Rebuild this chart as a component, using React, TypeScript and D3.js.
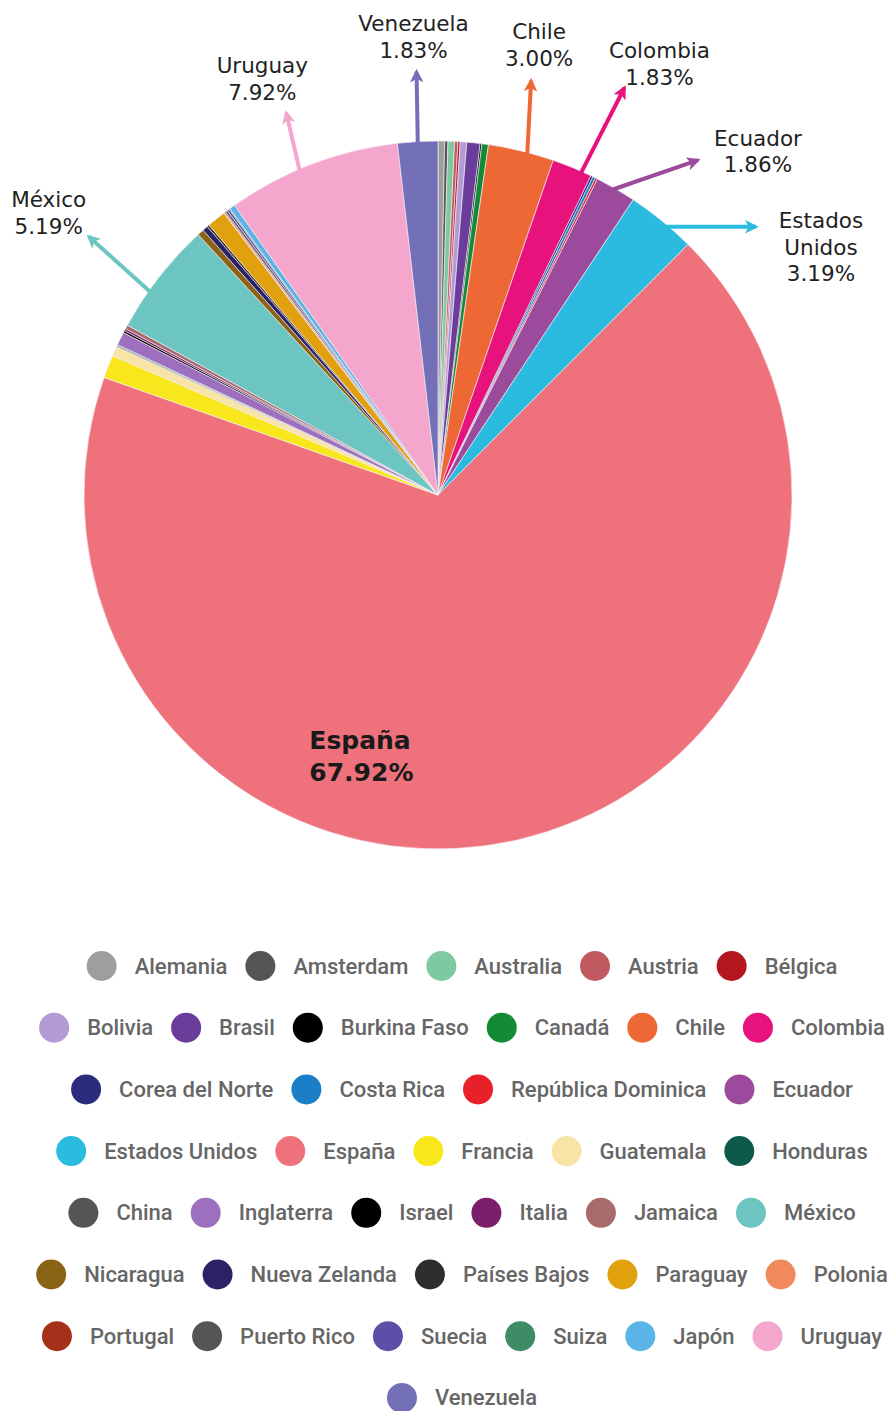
import React, { useMemo } from 'react';
import * as d3 from 'd3';

// Países, en el orden del gráfico (y de la leyenda)
const countries = [
  'Alemania', 'Amsterdam', 'Australia', 'Austria', 'Bélgica',
  'Bolivia', 'Brasil', 'Burkina Faso', 'Canadá', 'Chile', 'Colombia',
  'Corea del Norte', 'Costa Rica', 'República Dominica', 'Ecuador',
  'Estados Unidos', 'España', 'Francia', 'Guatemala', 'Honduras',
  'China', 'Inglaterra', 'Israel', 'Italia', 'Jamaica', 'México',
  'Nicaragua', 'Nueva Zelanda', 'Países Bajos', 'Paraguay', 'Polonia',
  'Portugal', 'Puerto Rico', 'Suecia', 'Suiza', 'Japón', 'Uruguay',
  'Venezuela'
];

// porcentajes (los pequeños estimados a ojo)
const shares = [
  0.3, 0.15, 0.3, 0.15, 0.1,
  0.3, 0.6, 0.08, 0.3, 3.0, 1.83,
  0.1, 0.13, 0.1, 1.86,
  3.19, 67.92, 1.05, 0.45, 0.05,
  0.05, 0.6, 0.1, 0.1, 0.18, 5.19,
  0.3, 0.25, 0.1, 0.85, 0.05,
  0.05, 0.1, 0.1, 0.05, 0.25, 7.92,
  1.83
];

const colors = [
  '#9e9e9e', '#555555', '#7fc9a1', '#c05a60', '#b3161d',
  '#b39bd6', '#6a3d9a', '#000000', '#138a36', '#ee6836', '#e8127c',
  '#2c2c7e', '#1a7fc6', '#e8202a', '#9c4a9c',
  '#2abbde', '#ef717b', '#f8e71c', '#f8e4a6', '#0d5a4a',
  '#555555', '#9d6fbf', '#000000', '#7b1f6b', '#a86a6a', '#6cc5c1',
  '#8a6414', '#2a2265', '#2e2e2e', '#e1a10f', '#f08a5d',
  '#a4311a', '#555555', '#5f4ea8', '#3d8c66', '#5ab4e6', '#f4a6cc',
  '#7470b8'
];

// etiquetas con flecha
const callouts = ['Venezuela', 'Chile', 'Colombia', 'Ecuador', 'Estados Unidos', 'México', 'Uruguay'];
const calloutLines = [
  ['Venezuela', '1.83%'],
  ['Chile', '3.00%'],
  ['Colombia', '1.83%'],
  ['Ecuador', '1.86%'],
  ['Estados', 'Unidos', '3.19%'],
  ['México', '5.19%'],
  ['Uruguay', '7.92%']
];

const W = 887;
const H = 1411;
const cx = 438;
const cy = 495;
const R = 354;

// at: posición en la porción (0..1), dir: grados (0 = arriba), len: largo, tx/ty: texto respecto a la punta
const calloutLayout: Record<string, { at: number; dir: number; len: number; tx: number; ty: number }> = {
  'Venezuela': { at: 0.5, dir: -1, len: 72, tx: -3, ty: -48 },
  'Chile': { at: 0.6, dir: 3, len: 74, tx: 8, ty: -49 },
  'Colombia': { at: 0.75, dir: 27, len: 96, tx: 35, ty: -37 },
  'Ecuador': { at: 0.45, dir: 71, len: 90, tx: 60, ty: -22 },
  'Estados Unidos': { at: 0.6, dir: 90, len: 90, tx: 65, ty: -6 },
  'México': { at: 0.35, dir: -48, len: 83, tx: -40, ty: -37 },
  'Uruguay': { at: 0.42, dir: -13, len: 60, tx: -24, ty: -47 }
};

const legendFont = '500 22px Roboto';
const legendTop = 966;
const legendRowGap = 61.7;
const legendCenter = 462;
const legendMaxWidth = 866;
const dotR = 15;
const gap = 18;

function measure(text: string): number {
  const c = document.createElement('canvas').getContext('2d');
  if (!c) return text.length * 10;
  c.font = legendFont;
  return c.measureText(text).width;
}

export default function App() {
  const data = countries.map((name, i) => ({ name, value: shares[i], color: colors[i] }));

  const pie = d3.pie<typeof data[0]>().sort(null).value(d => d.value).startAngle(0).endAngle(2 * Math.PI);
  const arcs = pie(data);
  const arc = d3.arc<d3.PieArcDatum<typeof data[0]>>().innerRadius(0).outerRadius(R);

  const legendRows = useMemo(() => {
    const rows: { name: string; color: string; w: number }[][] = [];
    let cur: { name: string; color: string; w: number }[] = [];
    let width = 0;
    data.forEach(d => {
      const w = measure(d.name);
      const itemW = dotR * 2 + gap + w;
      const next = cur.length ? width + gap + itemW : itemW;
      if (cur.length && next > legendMaxWidth) {
        rows.push(cur);
        cur = [];
        width = itemW;
      } else {
        width = next;
      }
      cur.push({ name: d.name, color: d.color, w });
    });
    if (cur.length) rows.push(cur);
    return rows;
  }, []);

  const espana = arcs.find(a => a.data.name === 'España')!;

  return (
    <svg width={W} height={H} style={{ position: 'absolute', left: 0, top: 0, background: '#fff' }}>
      <defs>
        {callouts.map(name => {
          const d = data.find(x => x.name === name)!;
          return (
            <marker key={name} id={`arrow-${countries.indexOf(name)}`} viewBox="0 0 10 10" refX="8" refY="5"
              markerWidth="3.4" markerHeight="3.4" orient="auto" markerUnits="strokeWidth">
              <path d="M0,0 L10,5 L0,10 L2.5,5 Z" fill={d.color} />
            </marker>
          );
        })}
      </defs>
      <g transform={`translate(${cx},${cy})`}>
        {arcs.map(a => (
          <path key={a.data.name} d={arc(a) || ''} fill={a.data.color}
            stroke="#f4eef6" strokeWidth={0.8} strokeOpacity={0.8} />
        ))}
        {callouts.map((name, i) => {
          const a = arcs.find(x => x.data.name === name)!;
          const lay = calloutLayout[name];
          const ang = a.startAngle + lay.at * (a.endAngle - a.startAngle);
          const sx = (R - 2) * Math.sin(ang);
          const sy = -(R - 2) * Math.cos(ang);
          const rad = (lay.dir * Math.PI) / 180;
          const ex = sx + lay.len * Math.sin(rad);
          const ey = sy - lay.len * Math.cos(rad);
          const lines = calloutLines[i];
          return (
            <g key={name}>
              <line x1={sx} y1={sy} x2={ex} y2={ey} stroke={a.data.color} strokeWidth={4}
                markerEnd={`url(#arrow-${countries.indexOf(name)})`} />
              <text x={ex + lay.tx} y={ey + lay.ty} textAnchor="middle" fontFamily="'DejaVu Sans', sans-serif"
                fontSize={21.5} fill="#222">
                {lines.map((l, j) => (
                  <tspan key={j} x={ex + lay.tx} y={ey + lay.ty + j * 26.5} dominantBaseline="central">{l}</tspan>
                ))}
              </text>
            </g>
          );
        })}
        {(() => {
          const [x, y] = arc.centroid(espana);
          return (
            <text fontFamily="'DejaVu Sans', sans-serif" fontWeight="bold" fontSize={25} fill="#1a1a1a">
              <tspan x={x - 168} y={y + 73} dominantBaseline="central">España</tspan>
              <tspan x={x - 168} y={y + 105} dominantBaseline="central">{`${espana.data.value.toFixed(2)}%`}</tspan>
            </text>
          );
        })()}
      </g>
      <g>
        {legendRows.map((row, r) => {
          const rowW = row.reduce((s, it) => s + dotR * 2 + gap + it.w, 0) + gap * (row.length - 1);
          let x = legendCenter - rowW / 2;
          const y = legendTop + r * legendRowGap;
          return (
            <g key={r}>
              {row.map(it => {
                const x0 = x;
                x += dotR * 2 + gap + it.w + gap;
                return (
                  <g key={it.name}>
                    <circle cx={x0 + dotR} cy={y} r={dotR} fill={it.color} />
                    <text x={x0 + dotR * 2 + gap} y={y} dominantBaseline="central"
                      fontFamily="Roboto, sans-serif" fontWeight={500} fontSize={22} fill="#666">{it.name}</text>
                  </g>
                );
              })}
            </g>
          );
        })}
      </g>
    </svg>
  );
}
